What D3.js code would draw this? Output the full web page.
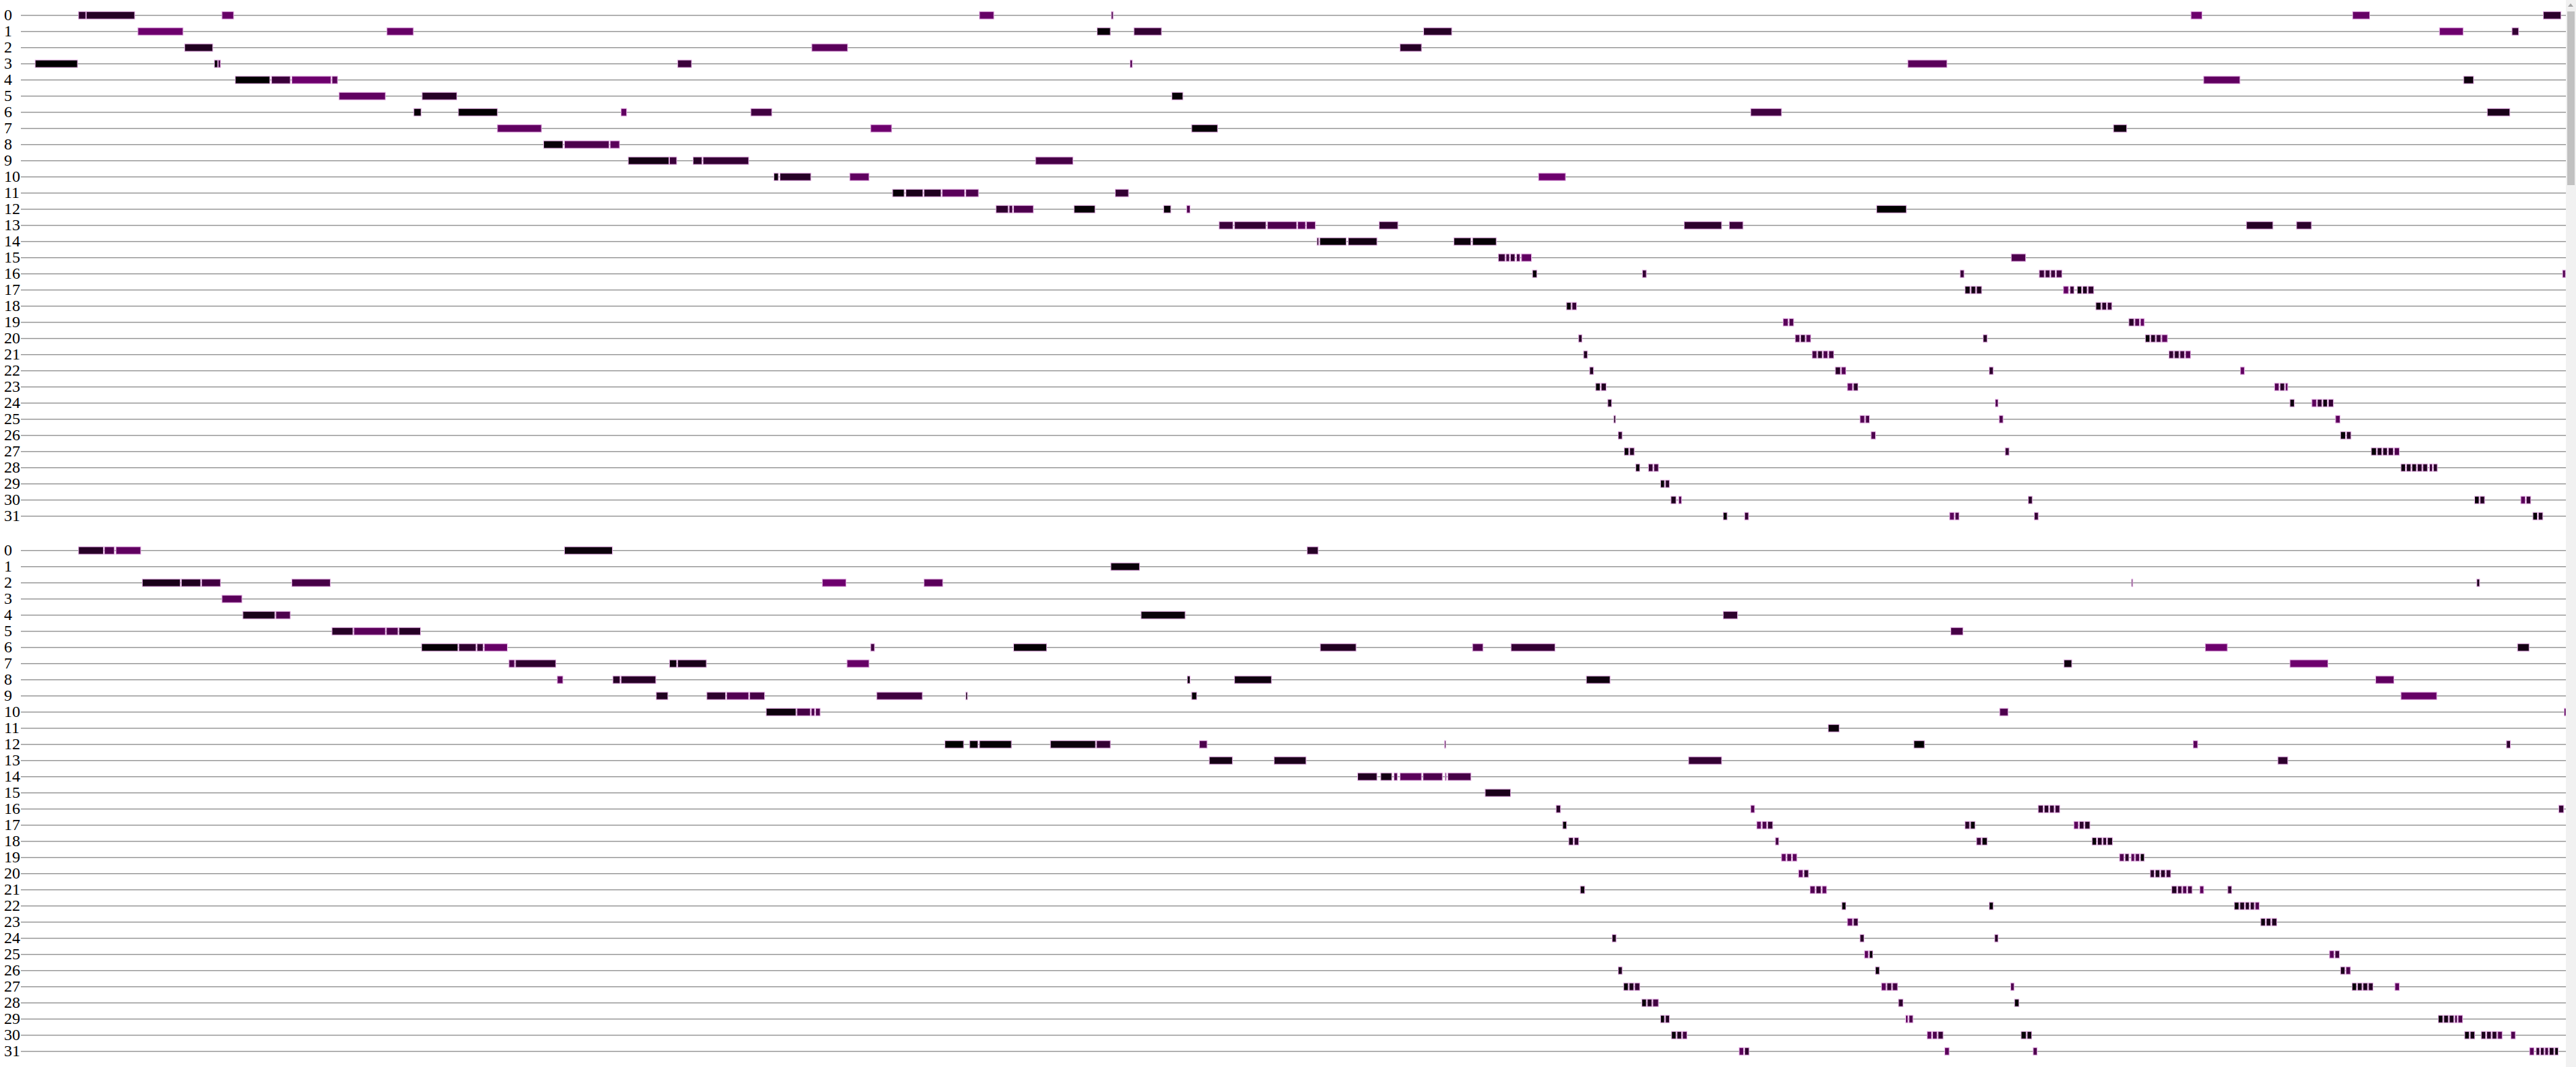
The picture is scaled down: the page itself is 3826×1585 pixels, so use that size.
<!DOCTYPE html>
<html><head><meta charset="utf-8">
<script src="https://cdn.jsdelivr.net/npm/d3@7"></script>
<style>
html,body{margin:0;padding:0;background:#fff;overflow:hidden;}
svg{display:block;}
#sb{position:fixed;right:0;top:0;width:15px;height:100%;background:#f1f1f1;}
#sb .thumb{position:absolute;left:2px;right:2px;top:17px;height:258px;background:#c1c1c1;}
#sb .arrow{position:absolute;left:3px;top:5px;width:0;height:0;border-left:4.5px solid transparent;border-right:4.5px solid transparent;border-bottom:5px solid #a3a3a3;}
</style></head><body>
<div id="chart"></div>
<div id="sb"><div class="arrow"></div><div class="thumb"></div></div>
<script>
// lanes (row labels)
const lanes = d3.range(32);
const laneLabels = lanes.map(String);
// time axis extent (arbitrary ticks)
const timeDomain = [0, 4630];
// runs: [lane, start, end, load (0 = black .. 1 = purple)]
const runsPanel1 = [
[0,105,118,.35],[0,119,207,.3],[0,366,387,.8],[0,1744,1770,.8],[0,1984,1987,.5],[0,3948,3968,.85],[0,4242,4273,.8],[0,4589,4621,.35],
[1,213,295,.85],[1,666,714,.8],[1,1958,1982,.05],[1,2025,2075,.4],[1,2552,2603,.3],[1,4400,4443,.85],[1,4532,4544,.4],
[2,298,349,.25],[2,1439,1504,.7],[2,2509,2548,.3],
[3,26,103,0],[3,352,358,.1],[3,359,363,.5],[3,1195,1220,.45],[3,2018,2022,.6],[3,3433,3504,.7],
[4,390,453,0],[4,456,490,.45],[4,493,564,.85],[4,566,576,.7],[4,3971,4037,.75],[4,4444,4462,.1],
[5,579,663,.75],[5,730,793,.3],[5,2094,2114,.05],
[6,715,728,.05],[6,796,867,.02],[6,1092,1102,.75],[6,1328,1366,.5],[6,3147,3203,.5],[6,4487,4528,.2],
[7,867,947,.75],[7,1546,1584,.85],[7,2130,2177,.03],[7,3807,3831,.1],
[8,951,986,.08],[8,989,1070,.6],[8,1072,1089,.7],
[9,1105,1179,.15],[9,1180,1193,.45],[9,1223,1239,.3],[9,1241,1324,.4],[9,1846,1914,.55],
[10,1370,1378,.1],[10,1381,1437,.3],[10,1508,1543,.75],[10,2761,2810,.85],
[11,1586,1607,.05],[11,1610,1641,.2],[11,1643,1674,.25],[11,1676,1717,.7],[11,1719,1742,.6],[11,1991,2015,.4],
[12,1774,1796,.35],[12,1798,1804,.5],[12,1806,1842,.6],[12,1916,1954,.03],[12,2079,2092,.05],[12,2121,2127,.6],[12,3376,3430,0],
[13,2180,2205,.45],[13,2208,2265,.4],[13,2268,2321,.6],[13,2323,2337,.7],[13,2339,2355,.65],[13,2471,2505,.35],[13,3026,3094,.35],[13,3108,3133,.45],[13,4049,4097,.3],[13,4140,4167,.35],
[14,2358,2361,.2],[14,2363,2411,.03],[14,2415,2467,.15],[14,2607,2638,.1],[14,2641,2684,.05],
[15,2688,2700,.4],[15,2702,2708,.5],[15,2710,2718,.4],[15,2721,2727,.55],[15,2730,2748,.75],[15,3621,3647,.6],
[16,2750,2758,.05],[16,2950,2957,.4],[16,3528,3535,.45],[16,3672,3681,.45],[16,3683,3691,.4],[16,3693,3701,.45],[16,3703,3713,.5],[16,4624,4629,.6],
[17,3537,3546,.1],[17,3548,3556,.15],[17,3558,3567,.2],[17,3716,3725,.75],[17,3728,3735,.4],[17,3741,3749,.05],[17,3751,3759,.2],[17,3761,3771,.35],
[18,2812,2820,.05],[18,2822,2830,.4],[18,3775,3784,.1],[18,3786,3794,.3],[18,3796,3804,.4],
[19,3206,3215,.7],[19,3217,3225,.6],[19,3835,3844,.3],[19,3846,3854,.6],[19,3856,3863,.75],
[20,2834,2840,.3],[20,3228,3236,.55],[20,3238,3246,.3],[20,3248,3256,.65],[20,3570,3577,.3],[20,3865,3873,.05],[20,3875,3883,.25],[20,3885,3893,.4],[20,3895,3905,.7],
[21,2843,2850,.25],[21,3259,3267,.5],[21,3269,3277,.3],[21,3279,3287,.6],[21,3289,3298,.5],[21,3908,3916,.4],[21,3918,3926,.3],[21,3928,3936,.45],[21,3938,3947,.65],
[22,2854,2861,.25],[22,3301,3310,.3],[22,3312,3320,.65],[22,3581,3588,.35],[22,4038,4045,.75],
[23,2865,2873,.02],[23,2875,2884,.25],[23,3323,3332,.7],[23,3334,3342,.3],[23,4100,4108,.65],[23,4110,4118,.3],[23,4120,4124,.7],
[24,2887,2894,.2],[24,3592,3597,.6],[24,4128,4136,.1],[24,4168,4176,.7],[24,4178,4186,.35],[24,4188,4196,.1],[24,4198,4207,.4],
[25,2898,2901,.2],[25,3346,3354,.65],[25,3356,3363,.55],[25,3599,3606,.6],[25,4211,4219,.7],
[26,2906,2913,.3],[26,3366,3374,.6],[26,4220,4229,.05],[26,4231,4239,.3],
[27,2917,2925,.05],[27,2927,2935,.25],[27,3610,3617,.4],[27,4276,4285,.05],[27,4287,4295,.2],[27,4297,4305,.25],[27,4307,4316,.35],[27,4318,4327,.6],
[28,2938,2945,.05],[28,2961,2969,.4],[28,2971,2979,.45],[28,4330,4338,.1],[28,4340,4348,.2],[28,4350,4358,.15],[28,4360,4368,.3],[28,4370,4378,.25],[28,4382,4387,.45],[28,4389,4396,.3],
[29,2983,2990,.05],[29,2992,2999,.3],
[30,3002,3011,.2],[30,3016,3021,.6],[30,3652,3659,.3],[30,4464,4472,.05],[30,4474,4482,.25],[30,4548,4556,.7],[30,4558,4566,.4],
[31,3097,3104,.05],[31,3136,3143,.4],[31,3509,3517,.7],[31,3519,3526,.55],[31,3663,3670,.4],[31,4570,4578,.05],[31,4580,4588,.25]
];
const runsPanel2 = [
[0,105,150,.3],[0,152,170,.6],[0,173,218,.75],[0,989,1076,.08],[0,2340,2360,.3],
[1,1983,2035,.08],
[2,221,290,.2],[2,292,327,.25],[2,329,363,.5],[2,493,563,.55],[2,1458,1501,.85],[2,1643,1677,.7],[2,3840,3842,.2],[2,4468,4473,.2],
[3,366,402,.7],
[4,404,462,.2],[4,464,490,.6],[4,2038,2118,.08],[4,3097,3123,.35],
[5,566,604,.3],[5,606,663,.7],[5,665,686,.6],[5,688,727,.3],[5,3511,3533,.55],
[6,729,795,.05],[6,797,828,.35],[6,830,841,.4],[6,843,885,.8],[6,1546,1553,.5],[6,1806,1866,.03],[6,2364,2429,.25],[6,2641,2660,.6],[6,2711,2791,.4],[6,3974,4014,.85],[6,4542,4563,.15],
[7,888,898,.6],[7,900,973,.35],[7,1180,1193,.1],[7,1195,1247,.2],[7,1503,1543,.8],[7,3717,3731,.1],[7,4128,4197,.85],
[8,976,986,.7],[8,1077,1090,.3],[8,1092,1155,.3],[8,2122,2127,.05],[8,2208,2275,.1],[8,2848,2891,.1],[8,4284,4317,.75],
[9,1156,1177,.25],[9,1248,1282,.35],[9,1284,1324,.65],[9,1326,1353,.55],[9,1557,1640,.5],[9,1719,1722,.1],[9,2130,2139,.05],[9,4330,4395,.8],
[10,1356,1410,.1],[10,1412,1436,.55],[10,1438,1444,.6],[10,1446,1454,.6],[10,3600,3615,.6],[10,4627,4630,.6],
[11,3288,3308,.1],
[12,1681,1715,0],[12,1726,1741,.03],[12,1744,1802,.05],[12,1873,1955,.1],[12,1957,1982,.4],[12,2144,2158,.6],[12,2590,2592,.3],[12,3444,3463,0],[12,3952,3960,.7],[12,4522,4529,.35],
[13,2162,2204,.15],[13,2280,2338,.2],[13,3034,3094,.4],[13,4106,4124,.35],
[14,2432,2467,.25],[14,2474,2494,.15],[14,2498,2504,.6],[14,2509,2548,.7],[14,2551,2586,.6],[14,2591,2593,.4],[14,2596,2638,.55],
[15,2664,2710,.2],
[16,2793,2801,.3],[16,3147,3154,.65],[16,3670,3679,.35],[16,3681,3689,.3],[16,3691,3699,.35],[16,3701,3709,.4],[16,4617,4626,.4],
[17,2805,2812,.05],[17,3158,3166,.7],[17,3168,3176,.6],[17,3178,3187,.4],[17,3537,3545,.3],[17,3547,3555,.05],[17,3735,3743,.7],[17,3745,3753,.35],[17,3755,3764,.25],
[18,2816,2824,.2],[18,2826,2834,.35],[18,3192,3198,.5],[18,3558,3566,.4],[18,3568,3577,.05],[18,3768,3776,.05],[18,3778,3786,.25],[18,3788,3794,.3],[18,3796,3805,.2],
[19,3203,3211,.7],[19,3213,3221,.6],[19,3223,3231,.7],[19,3818,3826,.6],[19,3828,3835,.3],[19,3839,3845,.65],[19,3847,3854,.55],[19,3856,3863,.05],
[20,3234,3242,.7],[20,3244,3252,.35],[20,3874,3881,.3],[20,3883,3891,.2],[20,3893,3901,.3],[20,3903,3911,.4],
[21,2837,2845,.1],[21,3255,3264,.65],[21,3266,3275,.45],[21,3277,3285,.7],[21,3913,3922,.25],[21,3924,3931,.4],[21,3933,3940,.6],[21,3942,3950,.5],[21,3964,3971,.7],[21,4015,4022,.4],
[22,3313,3320,.05],[22,3581,3588,.05],[22,4027,4035,.05],[22,4037,4045,.2],[22,4047,4054,.25],[22,4056,4063,.3],[22,4065,4072,.6],
[23,3323,3332,.7],[23,3334,3342,.4],[23,4075,4083,.1],[23,4085,4093,.2],[23,4095,4104,.25],
[24,2895,2902,.2],[24,3346,3353,.3],[24,3591,3597,.3],
[25,3354,3361,.7],[25,3363,3369,.1],[25,4200,4208,.7],[25,4210,4218,.45],
[26,2906,2913,.2],[26,3374,3381,.05],[26,4220,4228,.2],[26,4230,4238,.6],
[27,2916,2924,.05],[27,2926,2934,.2],[27,2936,2945,.4],[27,3385,3393,.7],[27,3395,3403,.4],[27,3405,3414,.5],[27,3620,3626,.6],[27,4241,4249,.05],[27,4251,4259,.15],[27,4261,4269,.2],[27,4271,4279,.3],[27,4319,4327,.7],
[28,2949,2957,.05],[28,2959,2967,.25],[28,2969,2979,.5],[28,3416,3424,.35],[28,3627,3635,.03],
[29,2983,2990,.05],[29,2992,2999,.25],[29,3429,3433,.7],[29,3435,3442,.6],[29,4398,4406,.05],[29,4408,4416,.15],[29,4418,4426,.2],[29,4428,4432,.5],[29,4434,4442,.6],
[30,3003,3011,.05],[30,3013,3021,.2],[30,3023,3031,.5],[30,3468,3476,.7],[30,3478,3486,.6],[30,3488,3497,.4],[30,3639,3648,.03],[30,3650,3658,.1],[30,4446,4454,.05],[30,4456,4464,.15],[30,4476,4484,.2],[30,4486,4494,.3],[30,4496,4504,.25],[30,4506,4514,.6],[30,4530,4538,.6],
[31,3126,3134,.7],[31,3136,3144,.35],[31,3500,3508,.7],[31,3661,3668,.6],[31,4564,4572,.7],[31,4576,4582,.35],[31,4584,4590,.3],[31,4592,4598,.5],[31,4600,4608,.2],[31,4610,4616,.05]
];

const W = 3811;
const H = 795.3;
const x = d3.scaleLinear().domain(timeDomain).range([31, W]);
const y = d3.scalePoint().domain(lanes).range([22.7, 766.7]);
const color = d3.scaleLinear().domain([0, 1]).range(["#000000", "#800080"]).interpolate(d3.interpolateRgb);

function drawPanel(runs) {
  const svg = d3.select("#chart").append("svg").attr("width", W).attr("height", H);
  svg.append("g").selectAll("line").data(lanes).join("line")
    .attr("x1", x(timeDomain[0])).attr("x2", x(timeDomain[1]))
    .attr("y1", d => y(d)).attr("y2", d => y(d))
    .attr("stroke", "#999").attr("stroke-width", 1.5);
  svg.append("g").selectAll("text").data(lanes).join("text")
    .attr("x", 6).attr("y", d => y(d) + 7)
    .attr("font-family", "'Liberation Serif', 'Times New Roman', serif")
    .attr("font-size", 24).attr("fill", "#000")
    .text(d => laneLabels[d]);
  svg.append("g").selectAll("rect").data(runs).join("rect")
    .attr("x", d => x(d[1]))
    .attr("width", d => Math.max(x(d[2]) - x(d[1]), 1.5))
    .attr("y", d => y(d[0]) - 5.5).attr("height", 11)
    .attr("fill", d => color(d[3]))
    .attr("stroke", "#e2a9e2").attr("stroke-width", 1);
}
drawPanel(runsPanel1);
drawPanel(runsPanel2);
</script>
</body></html>
